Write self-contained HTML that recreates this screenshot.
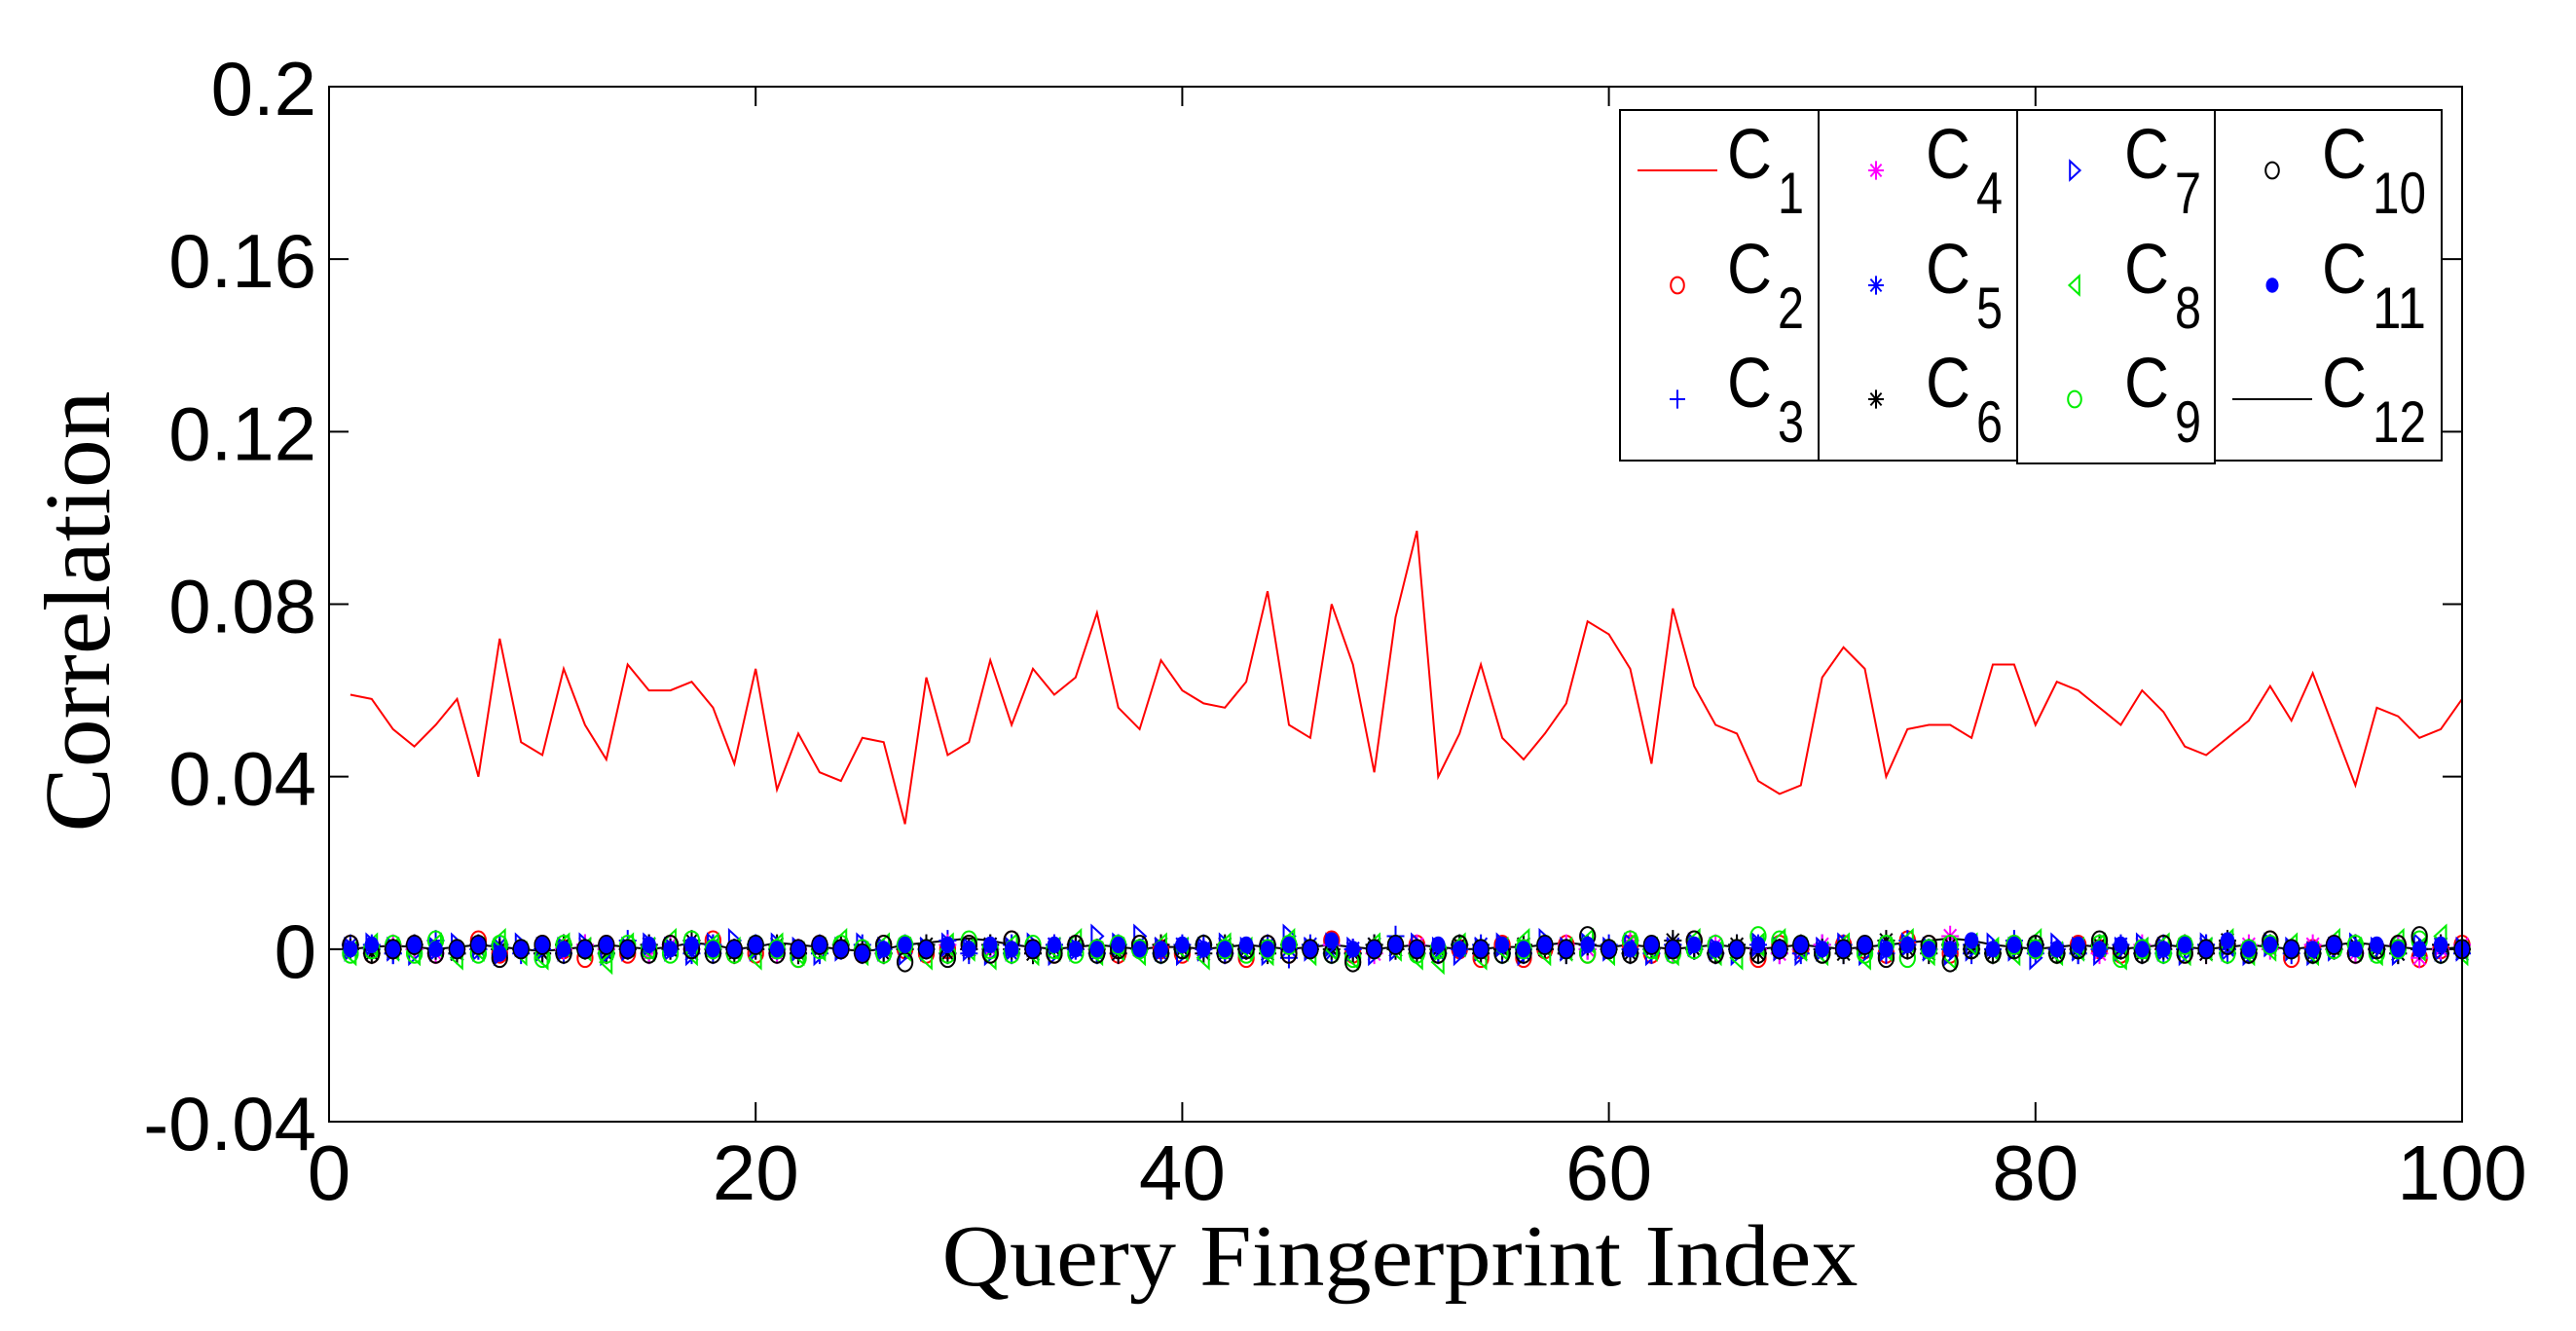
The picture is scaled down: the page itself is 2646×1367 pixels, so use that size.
<!DOCTYPE html>
<html><head><meta charset="utf-8"><style>
body{margin:0;background:#fff;}
svg{display:block;}
text{font-family:"Liberation Sans",Arial,sans-serif;}
</style></head><body>
<svg id="chart" width="2646" height="1367" viewBox="0 0 2646 1367" xmlns="http://www.w3.org/2000/svg">
<rect x="0" y="0" width="2646" height="1367" fill="#fff"/>
<g id="ticks"></g>
<g id="series"></g>
<rect x="338" y="89" width="2191" height="1063" fill="none" stroke="#000" stroke-width="2"/>
<g id="tick-labels"></g>
<text x="1438" y="1320" text-anchor="middle" font-size="90" textLength="941" lengthAdjust="spacingAndGlyphs" style="font-family:'Liberation Serif','Times New Roman',serif">Query Fingerprint Index</text>
<text transform="translate(112,628) rotate(-90)" text-anchor="middle" font-size="96" textLength="453" lengthAdjust="spacingAndGlyphs" style="font-family:'Liberation Serif','Times New Roman',serif">Correlation</text>
<g id="legend"></g>
</svg>
<script>
const xTicks=[0,20,40,60,80,100];
const yTicks=[-0.04,0,0.04,0.08,0.12,0.16,0.2];
const yTickLabels=["-0.04","0","0.04","0.08","0.12","0.16","0.2"];
const c1=[0.059,0.058,0.051,0.047,0.052,0.058,0.040,0.072,0.048,0.045,0.065,0.052,0.044,0.066,0.060,0.060,0.062,0.056,0.043,0.065,0.037,0.050,0.041,0.039,0.049,0.048,0.029,0.063,0.045,0.048,0.067,0.052,0.065,0.059,0.063,0.078,0.056,0.051,0.067,0.060,0.057,0.056,0.062,0.083,0.052,0.049,0.080,0.066,0.041,0.077,0.097,0.040,0.050,0.066,0.049,0.044,0.050,0.057,0.076,0.073,0.065,0.043,0.079,0.061,0.052,0.050,0.039,0.036,0.038,0.063,0.070,0.065,0.040,0.051,0.052,0.052,0.049,0.066,0.066,0.052,0.062,0.060,0.056,0.052,0.060,0.055,0.047,0.045,0.049,0.053,0.061,0.053,0.064,0.051,0.038,0.056,0.054,0.049,0.051,0.058];
// near-zero series, in units of 0.001
const c2=[1,-1,0,1,-1,0,2,-1,0,1,0,-2,1,-1,0,1,0,2,-1,-1,0,-2,1,0,-1,1,0,-1,0,1,-1,2,0,-1,1,0,-1,1,0,-1,1,0,-2,1,-1,0,2,-1,0,1,1,-1,0,-2,1,-2,0,1,-1,0,1,-1,0,2,-1,0,-2,1,0,-1,1,0,-1,2,1,-1,0,-1,1,0,-1,1,0,-1,0,1,-1,0,1,-1,2,-2,0,1,-1,0,1,-2,0,1];
const c3=[0,1,-1,0,2,-1,0,1,-1,0,-1,1,0,2,-1,0,1,-1,0,1,0,-1,-1,0,1,-1,0,1,2,-1,0,1,-1,0,1,-1,1,0,-1,0,1,-1,0,1,-2,0,1,-1,0,3,0,-1,1,0,-1,0,1,-1,0,1,0,-1,1,0,-1,1,0,-1,0,1,-1,0,1,2,0,1,-1,0,2,-1,0,-1,1,0,-1,1,0,1,-1,0,1,-1,0,1,-1,0,1,0,-1,0];
const c4=[0,0,1,0,-1,0,1,0,0,-1,0,1,0,0,-1,1,0,1,0,0,-1,0,0,1,0,-1,0,0,1,0,0,-1,0,1,0,0,-1,0,1,0,0,-1,0,1,0,0,1,0,-1,0,1,0,0,-1,0,1,0,1,0,0,2,0,-1,0,1,0,0,-1,0,1,0,0,-1,1,0,3,0,-1,0,1,0,0,-1,0,1,0,0,-1,0,1,0,0,1,0,-1,0,1,-2,0,1];
const c5=[1,0,-1,1,0,-1,0,1,0,-1,1,0,-1,0,1,0,-1,1,0,1,0,-1,1,0,-1,0,1,0,-1,0,1,-1,0,1,0,-1,1,0,-1,1,0,-1,0,1,0,1,-1,0,1,0,0,-1,0,1,0,-1,1,0,1,0,-1,0,1,0,-1,0,1,0,-1,0,1,0,-1,1,0,0,1,-1,0,1,0,-1,0,1,0,-1,0,1,0,-1,1,0,-1,0,1,0,-1,0,1,-1];
const c6=[0,-1,0,1,0,-1,1,0,0,-1,1,0,-1,0,1,0,2,0,-1,0,1,-1,0,1,0,-1,0,1,-1,0,1,0,-1,0,1,0,-1,0,1,0,-1,1,0,-1,1,0,0,-1,1,0,-1,0,1,-1,0,1,0,-1,1,0,-1,0,2,0,-1,1,-1,0,1,0,-1,0,2,0,-1,1,0,-1,0,1,-1,0,1,0,-1,0,1,-1,2,0,1,0,-1,0,1,0,-1,0,1,0];
const c7=[0,1,0,-1,0,1,0,-1,1,0,0,1,-1,0,1,0,-1,1,2,0,1,0,-1,0,1,0,-1,0,1,0,-1,0,1,-1,0,3,1,3,0,-1,0,1,0,-1,3,0,1,0,-1,0,1,0,-1,0,1,-1,2,0,1,0,1,-1,0,1,0,-1,1,0,-1,0,1,-1,0,1,0,-1,0,1,0,-2,1,0,-1,0,1,0,-1,1,0,-1,1,0,-1,0,1,0,-1,1,0,0];
const c8=[-1,1,0,-1,1,-2,0,2,-1,-2,1,0,-3,1,0,2,-1,1,0,-2,1,-1,0,2,-1,1,0,-2,1,0,-2,1,-1,0,2,-1,0,-1,1,0,-2,1,0,-1,2,-1,0,-2,1,0,-2,-3,1,-2,0,2,-1,0,2,-1,1,0,-1,2,-1,-2,1,2,0,-1,1,-2,0,2,-1,-2,1,0,-1,2,-1,0,1,-2,0,1,-1,0,2,-1,0,1,-1,2,0,-1,2,0,3,-1];
const c9=[-1,0,1,-1,2,0,-1,1,0,-2,1,0,-1,1,0,-1,2,0,-1,1,0,-2,0,1,0,-1,1,0,-1,2,0,-1,1,0,-1,0,1,0,-1,0,1,0,-1,0,1,0,-1,-2,0,1,-1,0,1,0,-1,0,1,0,-1,0,2,0,-1,0,1,0,3,2,1,-1,0,-1,1,-2,0,1,0,-1,1,0,-1,0,1,-2,0,-1,1,0,-1,0,1,0,-1,0,1,-1,0,2,-1,0];
const c10=[1,-1,0,1,-1,0,1,-2,0,1,-1,0,1,0,-1,1,0,-1,0,1,-1,0,1,0,-1,1,-3,0,-2,1,-1,2,0,-1,1,-1,0,1,-1,0,1,-1,0,1,-1,0,-1,-3,0,1,0,-1,1,0,-1,-1,1,0,3,0,-1,1,0,2,-1,0,-1,0,1,-1,0,1,-2,0,1,-3,0,-1,0,1,-1,0,2,0,-1,1,-1,0,1,-1,2,0,-1,1,-1,0,1,3,-1,0];
const c11=[0,1,0,1,0,0,1,-1,0,1,0,0,1,0,1,0,1,0,0,1,0,0,1,0,-1,0,1,0,1,0,1,0,0,1,0,0,1,0,0,1,0,0,1,0,1,0,2,0,0,1,0,1,0,0,1,0,1,0,1,0,0,1,0,1,0,0,1,0,1,0,0,1,0,1,0,0,2,0,1,0,0,1,0,1,0,0,1,0,2,0,1,0,0,1,0,1,0,0,1,0];
const c12=[0,0.5,0.8,0.5,0,0.5,1,0.5,0,-0.5,0,0.5,1,0.5,0,0.5,1.5,1,0,0.5,1.5,1,0.5,0,-0.5,0,1,1.5,2,2.5,2,1,0.5,0,0.5,1,0.5,0,0.5,0.5,0,0.5,1,0.5,0,0.5,1,0.5,0,0.5,1,0.5,0,0,0.5,0.5,1,1.5,1,0.5,1,0.5,0,0.5,1,0.5,0,0.5,1,0.5,0,0.5,1,1.5,2,2.5,2,1,0.5,0,0.5,1,0.5,0,0.5,1,0.5,0,0.5,1,0.5,0,0.5,1,1.5,1,0.5,0,0,0.5];

const NS="http://www.w3.org/2000/svg";
const L=338,R=2529,T=89,B=1152;
const X=v=>L+(v-0)/(100-0)*(R-L);
const Y=v=>B-(v+0.04)/(0.24)*(B-T);
function mk(tag,attrs,parent){const e=document.createElementNS(NS,tag);for(const k in attrs)e.setAttribute(k,attrs[k]);parent.appendChild(e);return e;}

const ticksG=document.getElementById('ticks');
const labG=document.getElementById('tick-labels');
xTicks.forEach(t=>{
  const a=mk('line',{x1:X(t),x2:X(t),y1:B,y2:B-20,stroke:'#000','stroke-width':2},ticksG);
  
  
  const b=mk('line',{x1:X(t),x2:X(t),y1:T,y2:T+20,stroke:'#000','stroke-width':2},ticksG);
  
  
  const tx=mk('text',{x:X(t),y:1232,'text-anchor':'middle','font-size':80},labG);
  tx.textContent=String(t);
  
  
});
yTicks.forEach((t,i)=>{
  const a=mk('line',{x1:L,x2:L+20,y1:Y(t),y2:Y(t),stroke:'#000','stroke-width':2},ticksG);
  
  
  const b=mk('line',{x1:R,x2:R-20,y1:Y(t),y2:Y(t),stroke:'#000','stroke-width':2},ticksG);
  
  
  const tx=mk('text',{x:325,y:Y(t)+29,'text-anchor':'end','font-size':78},labG);
  tx.textContent=yTickLabels[i];
  
  
});

function drawMarker(type,color,cx,cy,g,s){
  s=s||8;
  let e;
  if(type==='o'){e=mk('ellipse',{cx:cx,cy:cy,rx:s*0.85,ry:s*1.05,fill:'none',stroke:color,'stroke-width':2},g);}
  else if(type==='+'){e=mk('path',{d:`M${cx-s} ${cy}H${cx+s}M${cx} ${cy-s*1.2}V${cy+s*1.2}`,stroke:color,'stroke-width':2,fill:'none'},g);}
  else if(type==='*'){e=mk('path',{d:`M${cx-s} ${cy}H${cx+s}M${cx} ${cy-s*1.2}V${cy+s*1.2}M${cx-s*0.7} ${cy-s*0.8}L${cx+s*0.7} ${cy+s*0.8}M${cx-s*0.7} ${cy+s*0.8}L${cx+s*0.7} ${cy-s*0.8}`,stroke:color,'stroke-width':2,fill:'none'},g);}
  else if(type==='>'){e=mk('path',{d:`M${cx-s*0.6} ${cy-s*1.2}L${cx+s*0.7} ${cy}L${cx-s*0.6} ${cy+s*1.2}Z`,stroke:color,'stroke-width':2,fill:'none'},g);}
  else if(type==='<'){e=mk('path',{d:`M${cx+s*0.6} ${cy-s*1.2}L${cx-s*0.7} ${cy}L${cx+s*0.6} ${cy+s*1.2}Z`,stroke:color,'stroke-width':2,fill:'none'},g);}
  else if(type==='.'){e=mk('ellipse',{cx:cx,cy:cy,rx:s*0.75,ry:s*0.9,fill:color,stroke:color,'stroke-width':1},g);}
  return e;
}

const seriesG=document.getElementById('series');
const markerSeries=[
  {d:c2,t:'o',c:'#ff0000'},{d:c3,t:'+',c:'#0000ff'},{d:c4,t:'*',c:'#ff00ff'},
  {d:c5,t:'*',c:'#0000ff'},{d:c6,t:'*',c:'#000000'},{d:c7,t:'>',c:'#0000ff'},
  {d:c8,t:'<',c:'#00ee00'},{d:c9,t:'o',c:'#00ee00'},{d:c10,t:'o',c:'#000000'},
  {d:c11,t:'.',c:'#0000ff'}
];
const p12=c12.map((v,i)=>`${i?'L':'M'}${X(i+1).toFixed(1)} ${Y(v/1000).toFixed(1)}`).join('');
const l12=mk('path',{d:p12,fill:'none',stroke:'#000','stroke-width':2},seriesG);


markerSeries.forEach((s,si)=>{
  const g=mk('g',{},seriesG);
  
  
  s.d.forEach((v,i)=>{
    const m=drawMarker(s.t,s.c,X(i+1),Y(v/1000),g,9);
    
    
  });
});
const p1=c1.map((v,i)=>`${i?'L':'M'}${X(i+1).toFixed(1)} ${Y(v).toFixed(1)}`).join('');
const l1=mk('path',{d:p1,fill:'none',stroke:'#ff0000','stroke-width':2},seriesG);



// legend
const leg=document.getElementById('legend');
const cols=[1664,1868,2072,2275,2508];
const rows=[175,293,410];
for(let c=0;c<4;c++){
  const r=mk('rect',{x:cols[c],y:113,width:cols[c+1]-cols[c],height:c===2?363:360,fill:'#fff',stroke:'#000','stroke-width':2},leg);
  
  
}
const legItems=[
  {n:'1',t:'line',c:'#ff0000'},{n:'2',t:'o',c:'#ff0000'},{n:'3',t:'+',c:'#0000ff'},
  {n:'4',t:'*',c:'#ff00ff'},{n:'5',t:'*',c:'#0000ff'},{n:'6',t:'*',c:'#000000'},
  {n:'7',t:'>',c:'#0000ff'},{n:'8',t:'<',c:'#00ee00'},{n:'9',t:'o',c:'#00ee00'},
  {n:'10',t:'o',c:'#000000'},{n:'11',t:'.',c:'#0000ff'},{n:'12',t:'line',c:'#000000'}
];
legItems.forEach((it,i)=>{
  const c=Math.floor(i/3), r=i%3;
  const x0=cols[c], y0=rows[r];
  const g=mk('g',{},leg);
  
  
  if(it.t==='line'){mk('line',{x1:x0+18,x2:x0+100,y1:y0,y2:y0,stroke:it.c,'stroke-width':2},g);}
  else drawMarker(it.t,it.c,x0+59,y0,g,8);
  const tx=mk('text',{x:x0+110,y:y0+8,'font-size':72,textLength:46,lengthAdjust:'spacingAndGlyphs'},g);
  tx.textContent='C';
  const sb=mk('text',{x:x0+162,y:y0+44,'font-size':60,textLength:it.n.length>1?55:27,lengthAdjust:'spacingAndGlyphs'},g);
  sb.textContent=it.n;
});
</script>
</body></html>
